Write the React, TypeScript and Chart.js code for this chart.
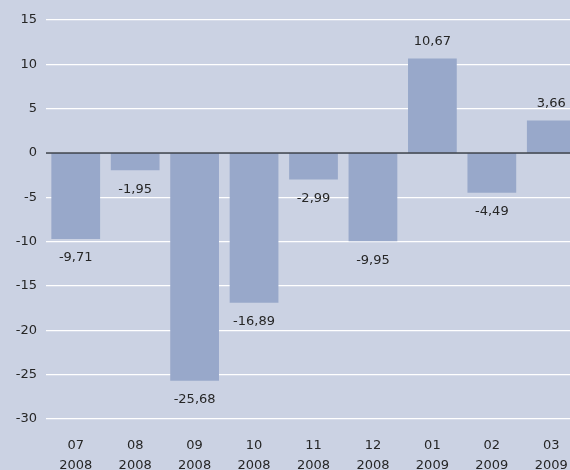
import React, { useEffect, useRef } from "react";
import { Chart, registerables } from "chart.js";

Chart.register(...registerables);

const months: string[][] = [
  ["07", "2008"], ["08", "2008"], ["09", "2008"], ["10", "2008"], ["11", "2008"],
  ["12", "2008"], ["01", "2009"], ["02", "2009"], ["03", "2009"],
];
const values: number[] = [-9.71, -1.95, -25.68, -16.89, -2.99, -9.95, 10.67, -4.49, 3.66];
const yTicks: number[] = [15, 10, 5, 0, -5, -10, -15, -20, -25, -30];

const BG = "#cbd2e3";
const BAR = "#98a8ca";
const TXT = "#262626";
const FONT = "'DejaVu Sans', Verdana, sans-serif";

const fmt = (v: number) => v.toFixed(2).replace(".", ",");

const labelPlugin = {
  id: "valueLabels",
  afterDatasetsDraw(chart: any) {
    const ctx = chart.ctx;
    const meta = chart.getDatasetMeta(0);
    ctx.save();
    ctx.font = `13px ${FONT}`;
    ctx.fillStyle = TXT;
    ctx.textAlign = "center";
    ctx.textBaseline = "middle";
    meta.data.forEach((bar: any, i: number) => {
      const v = values[i];
      const y = v >= 0 ? bar.y - 17 : bar.y + 19;
      ctx.fillText(fmt(v), bar.x, y);
    });
    ctx.restore();
  },
};

// keep the y mapping: 0 at pixel 153, 266px for 30 units
const mappingPlugin = {
  id: "yMapping",
  afterLayout(chart: any) {
    const y = chart.scales.y;
    const area = chart.chartArea;
    const ppu = 266 / 30;
    y.min = -(area.bottom - 153) / ppu;
    y.max = (153 - area.top) / ppu;
    y.configure();
  },
};

const zeroLinePlugin = {
  id: "zeroLine",
  afterDatasetsDraw(chart: any) {
    const { ctx, chartArea, scales } = chart;
    const y = scales.y.getPixelForValue(0);
    ctx.save();
    ctx.strokeStyle = "#323845";
    ctx.lineWidth = 1.4;
    ctx.beginPath();
    ctx.moveTo(chartArea.left, y);
    ctx.lineTo(chartArea.right, y);
    ctx.stroke();
    ctx.restore();
  },
};

export default function App() {
  const ref = useRef<HTMLCanvasElement>(null);
  useEffect(() => {
    if (!ref.current) return;
    const chart = new Chart(ref.current, {
      type: "bar",
      data: {
        labels: months,
        datasets: [
          {
            data: values,
            backgroundColor: BAR,
            borderWidth: 0,
            barPercentage: 0.82,
            categoryPercentage: 1,
          },
        ],
      },
      options: {
        animation: false,
        responsive: false,
        maintainAspectRatio: false,
        layout: { padding: { left: 0, right: 0, top: 0, bottom: 0 } },
        plugins: { legend: { display: false }, tooltip: { enabled: false } },
        scales: {
          x: {
            grid: { display: false, drawTicks: false },
            border: { display: false },
            afterFit: (axis: any) => {
              axis.height = 40;
            },
            ticks: {
              color: TXT,
              font: { family: FONT, size: 13, lineHeight: 20 / 13 },
              padding: 6,
              maxRotation: 0,
              autoSkip: false,
            },
          },
          y: {
            min: -32,
            max: 17,
            afterBuildTicks: (axis: any) => {
              axis.ticks = yTicks.map((v) => ({ value: v }));
            },
            afterFit: (axis: any) => {
              axis.width = 46;
            },
            grid: {
              color: "#ffffff",
              lineWidth: 1.2,
              drawTicks: false,
            },
            border: { display: false },
            ticks: {
              color: TXT,
              font: { family: FONT, size: 13 },
              padding: 9,
            },
          },
        },
      },
      plugins: [mappingPlugin, zeroLinePlugin, labelPlugin],
    });
    return () => chart.destroy();
  }, []);

  return (
    <div
      style={{
        position: "fixed",
        left: 0,
        top: 0,
        width: 570,
        height: 470,
        overflow: "hidden",
        background: BG,
      }}
    >
      <canvas ref={ref} width={581} height={470} style={{ display: "block", width: 581, height: 470 }} />
    </div>
  );
}
